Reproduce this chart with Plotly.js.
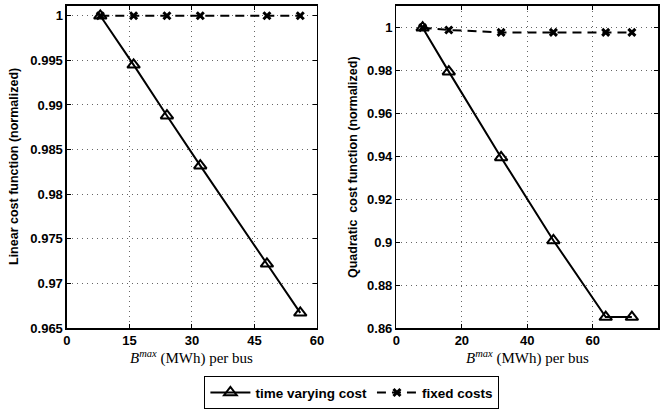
<!DOCTYPE html>
<html>
<head>
<meta charset="utf-8">
<script src="https://cdn.plot.ly/plotly-3.0.1.min.js"></script>
<style>
  html, body { margin: 0; padding: 0; background: #fff; }
  #chart { width: 663px; height: 410px; }
</style>
</head>
<body>
<div id="chart"></div>
<script>
// Storage capacity per bus (MWh)
const linearB = [8, 16, 24, 32, 48, 56];
const linearTimeVarying = [1.0, 0.9945, 0.9888, 0.9832, 0.9722, 0.9667];
const linearFixed = [1.0, 1.0, 1.0, 1.0, 1.0, 1.0];

const quadB = [8, 16, 32, 48, 64, 72];
const quadTimeVarying = [1.0, 0.9795, 0.9395, 0.9008, 0.8651, 0.8651];
const quadFixed = [1.0, 0.9989, 0.9978, 0.9978, 0.9978, 0.9978];

const leftXTicks = [0, 15, 30, 45, 60];
const leftYTicks = [0.965, 0.97, 0.975, 0.98, 0.985, 0.99, 0.995, 1];
const leftYLabels = ['0.965', '0.97', '0.975', '0.98', '0.985', '0.99', '0.995', '1'];
const rightXTicks = [0, 20, 40, 60, 80];
const rightYTicks = [0.86, 0.88, 0.9, 0.92, 0.94, 0.96, 0.98, 1];
const rightYLabels = ['0.86', '0.88', '0.9', '0.92', '0.94', '0.96', '0.98', '1'];

const seriesNames = ['time varying cost', 'fixed costs'];
const leftYTitle = 'Linear cost function (normalized)';
const rightYTitle = 'Quadratic&nbsp; cost function (normalized)';
const xTitleText = '<i>B</i><sup><i>max</i></sup> (MWh) per bus';

const solidStyle = {
  mode: 'lines+markers',
  line: { color: '#000', width: 2 },
  marker: { symbol: 'triangle-up-open', size: 11, color: '#000', line: { color: '#000', width: 2 } }
};
const dashedStyle = {
  mode: 'lines+markers',
  line: { color: '#000', width: 2, dash: '9px,6px' },
  marker: { symbol: 'x-thin-open', size: 7, color: '#000', line: { color: '#000', width: 3 } }
};

const traces = [
  Object.assign({ x: linearB, y: linearFixed, xaxis: 'x', yaxis: 'y', name: seriesNames[1], showlegend: false }, dashedStyle),
  Object.assign({ x: linearB, y: linearTimeVarying, xaxis: 'x', yaxis: 'y', name: seriesNames[0], legendrank: 1 }, solidStyle),
  Object.assign({ x: quadB, y: quadFixed, xaxis: 'x2', yaxis: 'y2', name: seriesNames[1], legendrank: 2 }, dashedStyle),
  Object.assign({ x: quadB, y: quadTimeVarying, xaxis: 'x2', yaxis: 'y2', name: seriesNames[0], showlegend: false }, solidStyle)
];

const sansBold = 'Liberation Sans, Arial, Helvetica, sans-serif';
const tickFont = { family: sansBold, size: 13, color: '#000', weight: 'bold' };
const yTitleFont = { family: sansBold, size: 12.5, color: '#000', weight: 'bold' };
const xTitleFont = { family: 'Liberation Serif, Times New Roman, serif', size: 15, color: '#000' };

function axisBase() {
  return {
    showline: true, linecolor: '#000', linewidth: 1.5, mirror: 'ticks',
    ticks: 'inside', ticklen: 4, tickcolor: '#000', tickwidth: 1,
    showgrid: true, gridcolor: '#666', gridwidth: 1, griddash: '1px,4px',
    zeroline: false, tickfont: tickFont, fixedrange: true
  };
}

// axis titles drawn as paper annotations so they sit at fixed distances from the plots
function axisTitle(text, font, x, y, angle) {
  return { text: text, font: font, textangle: angle, showarrow: false,
           xref: 'paper', yref: 'paper', x: x, y: y, xanchor: 'center', yanchor: 'middle' };
}

const layout = {
  width: 663, height: 410,
  margin: { l: 0, r: 0, t: 0, b: 0 },
  paper_bgcolor: '#fff', plot_bgcolor: '#fff',
  showlegend: true,
  legend: {
    orientation: 'h', x: 0.308, y: 0.083, xanchor: 'left', yanchor: 'top',
    bordercolor: '#000', borderwidth: 1.2, bgcolor: '#fff',
    font: { family: sansBold, size: 13.5, color: '#000', weight: 'bold' },
    itemwidth: 40, tracegroupgap: 0
  },
  xaxis: Object.assign(axisBase(), {
    domain: [0.101, 0.478], anchor: 'y', range: [0, 60],
    tickvals: leftXTicks, ticktext: leftXTicks.map(String)
  }),
  yaxis: Object.assign(axisBase(), {
    domain: [0.2, 0.9854], anchor: 'x', range: [0.965, 1.0011],
    tickvals: leftYTicks, ticktext: leftYLabels
  }),
  xaxis2: Object.assign(axisBase(), {
    domain: [0.598, 0.9925], anchor: 'y2', range: [0, 80],
    tickvals: rightXTicks, ticktext: rightXTicks.map(String)
  }),
  yaxis2: Object.assign(axisBase(), {
    domain: [0.2, 0.9854], anchor: 'x2', range: [0.86, 1.0101],
    tickvals: rightYTicks, ticktext: rightYLabels
  }),
  annotations: [
    axisTitle(leftYTitle, yTitleFont, 14 / 663, 0.5927, -90),
    axisTitle(rightYTitle, yTitleFont, 353 / 663, 0.5927, -90),
    axisTitle(xTitleText, xTitleFont, (0.101 + 0.478) / 2, 1 - 357 / 410, 0),
    axisTitle(xTitleText, xTitleFont, (0.598 + 0.9925) / 2, 1 - 357 / 410, 0)
  ]
};

Plotly.newPlot('chart', traces, layout, { staticPlot: true, displayModeBar: false });
</script>
</body>
</html>
